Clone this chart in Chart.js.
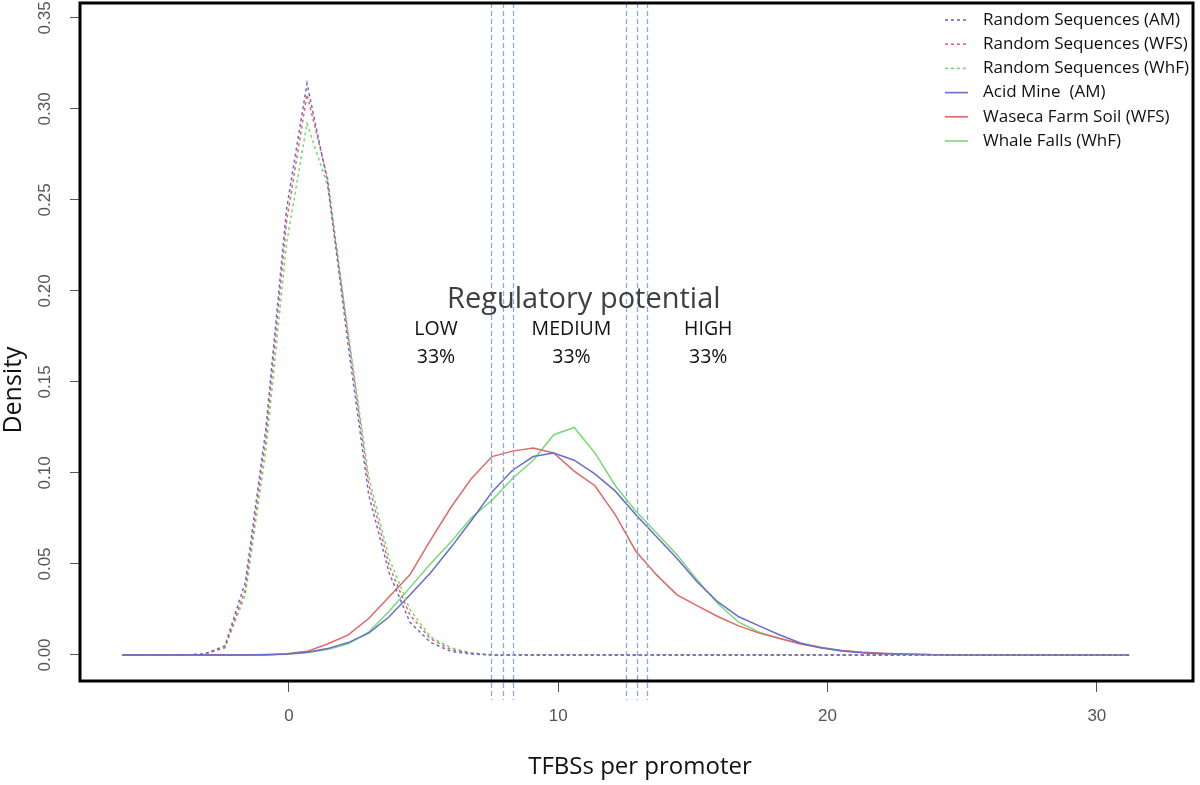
<!DOCTYPE html>
<html>
<head>
<meta charset="utf-8">
<script src="https://cdn.jsdelivr.net/npm/chart.js@4.4.1/dist/chart.umd.min.js"></script>
<style>
  html, body { margin: 0; padding: 0; background: #fff; }
  #wrap { width: 1200px; height: 785px; }
</style>
</head>
<body>
<div id="wrap"><canvas id="densityChart" width="1200" height="785"></canvas></div>
<script>
// Values (density estimated on a 50 point grid)
const xGrid = [
  -6.20, -5.44, -4.67, -3.91, -3.15, -2.38, -1.62, -0.86, -0.09, 0.67,
   1.43,  2.20,  2.96,  3.72,  4.49,  5.25,  6.01,  6.78,  7.54, 8.30,
   9.07,  9.83, 10.59, 11.36, 12.12, 12.88, 13.65, 14.41, 15.17, 15.94,
  16.70, 17.46, 18.23, 18.99, 19.75, 20.52, 21.28, 22.04, 22.81, 23.57,
  24.33, 25.10, 25.86, 26.62, 27.39, 28.15, 28.91, 29.68, 30.44, 31.20
];

const randomAM = [
  0, 0, 0, 0, 0.0005, 0.005, 0.040, 0.124, 0.245, 0.314,
  0.260, 0.170, 0.088, 0.045, 0.018, 0.007, 0.002, 0.0005, 0, 0,
  0, 0, 0, 0, 0, 0, 0, 0, 0, 0,
  0, 0, 0, 0, 0, 0, 0, 0, 0, 0,
  0, 0, 0, 0, 0, 0, 0, 0, 0, 0
];
const randomWFS = [
  0, 0, 0, 0, 0.0005, 0.004, 0.036, 0.119, 0.238, 0.308,
  0.262, 0.175, 0.094, 0.049, 0.022, 0.009, 0.003, 0.001, 0, 0,
  0, 0, 0, 0, 0, 0, 0, 0, 0, 0,
  0, 0, 0, 0, 0, 0, 0, 0, 0, 0,
  0, 0, 0, 0, 0, 0, 0, 0, 0, 0
];
const randomWhF = [
  0, 0, 0, 0, 0.0005, 0.004, 0.033, 0.112, 0.226, 0.292,
  0.258, 0.177, 0.098, 0.053, 0.025, 0.010, 0.004, 0.001, 0, 0,
  0, 0, 0, 0, 0, 0, 0, 0, 0, 0,
  0, 0, 0, 0, 0, 0, 0, 0, 0, 0,
  0, 0, 0, 0, 0, 0, 0, 0, 0, 0
];
const acidMine = [
  0, 0, 0, 0, 0, 0, 0, 0.0002, 0.0005, 0.0015,
  0.0035, 0.0068, 0.012, 0.021, 0.033, 0.045, 0.059, 0.074, 0.0896, 0.1015,
  0.109, 0.111, 0.107, 0.0995, 0.090, 0.077, 0.065, 0.053, 0.040, 0.029,
  0.021, 0.016, 0.011, 0.0066, 0.004, 0.0022, 0.0012, 0.0007, 0.0004, 0.0002,
  0, 0, 0, 0, 0, 0, 0, 0, 0, 0
];
const wasecaSoil = [
  0, 0, 0, 0, 0, 0, 0, 0, 0.0007, 0.002,
  0.006, 0.011, 0.020, 0.032, 0.044, 0.063, 0.081, 0.097, 0.109, 0.112,
  0.1137, 0.111, 0.101, 0.093, 0.077, 0.057, 0.044, 0.033, 0.027, 0.021,
  0.016, 0.012, 0.009, 0.006, 0.004, 0.0025, 0.0015, 0.001, 0.0006, 0.0003,
  0, 0, 0, 0, 0, 0, 0, 0, 0, 0
];
const whaleFalls = [
  0, 0, 0, 0, 0, 0, 0, 0, 0.0004, 0.0012,
  0.003, 0.0062, 0.0125, 0.024, 0.037, 0.050, 0.062, 0.0755, 0.085, 0.097,
  0.107, 0.121, 0.125, 0.111, 0.093, 0.079, 0.067, 0.055, 0.041, 0.028,
  0.018, 0.0125, 0.009, 0.0063, 0.0042, 0.0025, 0.0015, 0.0008, 0.0004, 0.0002,
  0, 0, 0, 0, 0, 0, 0, 0, 0, 0
];

const seriesNames = [
  'Random Sequences (AM)', 'Random Sequences (WFS)', 'Random Sequences (WhF)',
  'Acid Mine  (AM)', 'Waseca Farm Soil (WFS)', 'Whale Falls (WhF)'
];
const xTicks = [0, 10, 20, 30];
const yTicks = [0, 0.05, 0.10, 0.15, 0.20, 0.25, 0.30, 0.35];
// class boundaries (vertical dashed lines)
const cutoffs = [7.52, 7.93, 8.32, 12.51, 12.91, 13.29];

// colours
const BLUE  = '#6a6ad0';
const RED   = '#e26666';
const GREEN = '#74dc74';

const allSeries = [randomAM, randomWFS, randomWhF, acidMine, wasecaSoil, whaleFalls];
const colors    = [BLUE, RED, GREEN, BLUE, RED, GREEN];

const datasets = allSeries.map((vals, i) => ({
    label: seriesNames[i],
    data: xGrid.map((x, j) => ({ x: x, y: vals[j] })),
    borderColor: colors[i],
    borderWidth: 1.5,
    borderDash: i < 3 ? [3, 3] : [],
    pointRadius: 0,
    tension: 0,
    fill: false
}));

// text placed in data coordinates
const notes = [
    { text: 'Regulatory potential', x: 10.95, y: 0.195, size: 29, color: '#404040' },
    { text: 'LOW',    x: 5.46,  y: 0.1786, size: 19.5, color: '#111' },
    { text: '33%',    x: 5.46,  y: 0.1637, size: 19.5, color: '#111' },
    { text: 'MEDIUM', x: 10.49, y: 0.1786, size: 19.5, color: '#111' },
    { text: '33%',    x: 10.49, y: 0.1637, size: 19.5, color: '#111' },
    { text: 'HIGH',   x: 15.57, y: 0.1786, size: 19.5, color: '#111' },
    { text: '33%',    x: 15.57, y: 0.1637, size: 19.5, color: '#111' }
];

const TXT_FONT  = '"Open Sans", "Noto Sans", sans-serif';
const TICK_FONT = '"Liberation Sans Narrow", "Liberation Sans", Arial, sans-serif';

const decorations = {
    id: 'decorations',
    afterDraw(chart) {
        const ctx = chart.ctx;
        const area = chart.chartArea;
        const xs = chart.scales.x;
        const ys = chart.scales.y;

        ctx.save();

        // vertical dashed boundaries
        ctx.strokeStyle = '#85addb';
        ctx.lineWidth = 1.3;
        ctx.setLineDash([5, 3]);
        cutoffs.forEach(v => {
            const px = Math.round(xs.getPixelForValue(v)) + 0.5;
            ctx.beginPath();
            ctx.moveTo(px, area.top);
            ctx.lineTo(px, 700);
            ctx.stroke();
        });
        ctx.setLineDash([]);

        // plot frame
        ctx.strokeStyle = '#000';
        ctx.lineWidth = 3;
        ctx.strokeRect(area.left, area.top, area.right - area.left, area.bottom - area.top);

        // y tick labels, written along the axis
        ctx.fillStyle = '#555';
        ctx.font = '17px ' + TICK_FONT;
        ctx.textAlign = 'center';
        ctx.textBaseline = 'middle';
        yTicks.forEach(v => {
            ctx.save();
            ctx.translate(45, ys.getPixelForValue(v));
            ctx.rotate(-Math.PI / 2);
            ctx.fillText(v.toFixed(2), 0, 0);
            ctx.restore();
        });

        // axis titles
        ctx.fillStyle = '#111';
        ctx.font = '24px ' + TXT_FONT;
        ctx.fillText('TFBSs per promoter', 640, 767);
        ctx.save();
        ctx.translate(14, 390);
        ctx.rotate(-Math.PI / 2);
        ctx.font = '25px ' + TXT_FONT;
        ctx.fillText('Density', 0, 0);
        ctx.restore();

        // annotations
        notes.forEach(n => {
            ctx.fillStyle = n.color;
            ctx.font = n.size + 'px ' + TXT_FONT;
            ctx.fillText(n.text, xs.getPixelForValue(n.x), ys.getPixelForValue(n.y));
        });

        // legend (top right, no box)
        ctx.textAlign = 'left';
        ctx.font = '17px ' + TXT_FONT;
        chart.data.datasets.forEach((ds, i) => {
            const y = 20 + i * 24.2;
            ctx.strokeStyle = ds.borderColor;
            ctx.lineWidth = 1.6;
            ctx.setLineDash(ds.borderDash);
            ctx.beginPath();
            ctx.moveTo(945, y);
            ctx.lineTo(968, y);
            ctx.stroke();
            ctx.setLineDash([]);
            ctx.fillStyle = '#111';
            ctx.fillText(ds.label, 983, y);
        });

        ctx.restore();
    }
};

new Chart(document.getElementById('densityChart'), {
    type: 'line',
    data: { datasets: datasets },
    options: {
        responsive: false,
        animation: false,
        layout: { padding: { top: 3, right: 7, left: 0, bottom: 0 } },
        plugins: {
            legend: { display: false },
            tooltip: { enabled: false }
        },
        scales: {
            x: {
                type: 'linear',
                min: -7.76,
                max: 33.57,
                afterBuildTicks: s => { s.ticks = xTicks.map(v => ({ value: v })); },
                afterFit: s => { s.height = 104; },
                border: { display: false },
                grid: { drawOnChartArea: false, drawTicks: true, tickLength: 11, color: '#555' },
                ticks: {
                    padding: 14,
                    color: '#555',
                    font: { family: TICK_FONT, size: 17 },
                    maxRotation: 0,
                    callback: v => String(v)
                }
            },
            y: {
                type: 'linear',
                min: -0.0143,
                max: 0.3582,
                afterBuildTicks: s => { s.ticks = yTicks.map(v => ({ value: v })); },
                afterFit: s => { s.width = 80; },
                border: { display: false },
                grid: { drawOnChartArea: false, drawTicks: true, tickLength: 10, color: '#555' },
                ticks: { display: false }
            }
        }
    },
    plugins: [decorations]
});
</script>
</body>
</html>
